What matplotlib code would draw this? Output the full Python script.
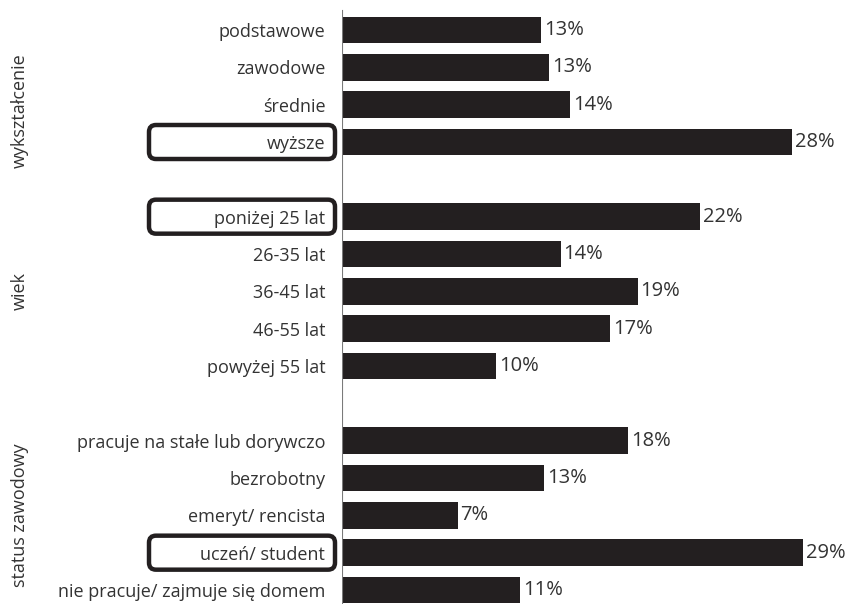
import matplotlib
matplotlib.use("Agg")
import matplotlib.pyplot as plt
from matplotlib.patches import FancyBboxPatch
from matplotlib.transforms import IdentityTransform

plt.rcParams['font.family'] = ['Open Sans', 'DejaVu Sans']

categories = ["podstawowe", "zawodowe", "średnie", "wyższe",
              "poniżej 25 lat", "26-35 lat", "36-45 lat", "46-55 lat", "powyżej 55 lat",
              "pracuje na stałe lub dorywczo", "bezrobotny", "emeryt/ rencista",
              "uczeń/ student", "nie pracuje/ zajmuje się domem"]
values = [12.4, 12.9, 14.2, 28.0,
          22.3, 13.6, 18.4, 16.7, 9.6,
          17.8, 12.6, 7.2, 28.7, 11.1]
value_labels = ["13%", "13%", "14%", "28%",
                "22%", "14%", "19%", "17%", "10%",
                "18%", "13%", "7%", "29%", "11%"]
groups = ["wykształcenie", "wiek", "status zawodowy"]
group_sizes = [4, 5, 5]
highlighted = ["wyższe", "poniżej 25 lat", "uczeń/ student"]

DARK = "#231f20"

# positions: groups separated by one empty row
positions = []
pos = 0
for size in group_sizes:
    for _ in range(size):
        positions.append(pos)
        pos += 1
    pos += 1
# vertical placement of the rotated group labels (in row units)
group_label_rows = [2.15, 7.0, 13.0]

W, H = 854, 604
fig = plt.figure(figsize=(W / 100, H / 100), dpi=100)
ax = fig.add_axes([342 / W, 0, (W - 342) / W, 1])

row = 37.33
ax.set_ylim(15 + 14 / row, -30 / row)
ax.set_xlim(0, (W - 342) / 16.07)

ax.barh(positions, values, height=0.72, color=DARK, left=0)
for p, v, lab in zip(positions, values, value_labels):
    ax.annotate(lab, (v, p), xytext=(2, 0), textcoords="offset points",
                va="center", ha="left", fontsize=14.5, color="#333333")

ax.set_yticks(positions)
ax.set_yticklabels(categories, fontsize=13, color="#333333")
ax.tick_params(axis="y", length=0, pad=12)
ax.set_xticks([])
for s in ax.spines.values():
    s.set_visible(False)
ax.axvline(0, ymin=0, ymax=1 - 10 / H, color="#7a7a7a", lw=0.8)

fig.canvas.draw()
# group labels
for g, c in zip(groups, group_label_rows):
    _, yd = ax.transData.transform((0, c))
    fig.text(20 / W, yd / H, g, rotation=90, ha="center", va="center",
             fontsize=13, color="#333333")

# rounded boxes around highlighted labels
for name in highlighted:
    p = positions[categories.index(name)]
    _, yd = ax.transData.transform((0, p))
    bh = 34
    box = FancyBboxPatch((149, yd - bh / 2), 186, bh,
                         boxstyle="round,pad=0,rounding_size=7",
                         transform=IdentityTransform(), fill=False,
                         edgecolor=DARK, linewidth=3.2)
    fig.patches.append(box)

fig.savefig("out.png", dpi=100, facecolor="white")
